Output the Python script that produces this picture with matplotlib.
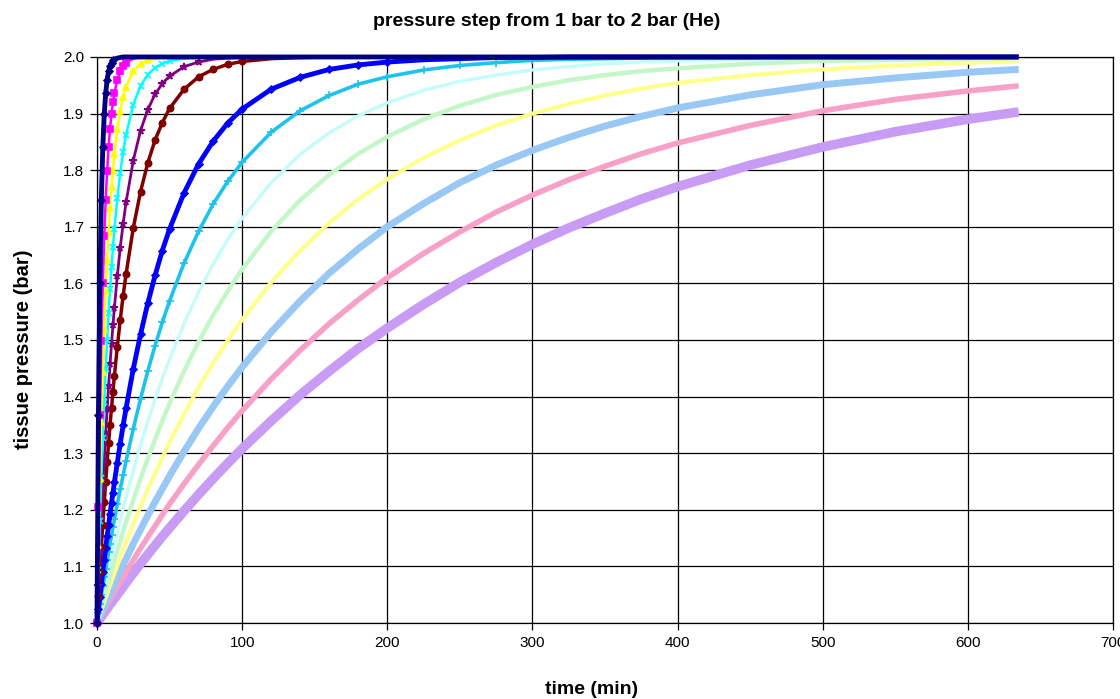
"""
Tissue pressure after a pressure step 1 bar -> 2 bar (helium compartments)
Values read off the reference chart.
"""
import matplotlib
matplotlib.use("Agg")
import matplotlib.pyplot as plt
from matplotlib.ticker import MultipleLocator

plt.rcParams['font.family'] = ['Liberation Sans', 'DejaVu Sans']

# ===== data =====
time_min = [0, 1, 2, 3, 4, 5, 6, 7, 8, 9, 10, 11, 12, 14, 16, 18, 20, 25, 30, 35,
            40, 45, 50, 60, 70, 80, 90, 100, 120, 140, 160, 180, 200, 225, 250, 275,
            300, 325, 350, 375, 400, 450, 500, 550, 600, 635]

# half-time labels of the compartments (min)
half_times = [1.51, 3.02, 4.72, 6.99, 10.21, 14.48, 29.11, 41.20,
              55.19, 70.69, 90.34, 115.29, 147.42, 188.24]

p01 = [1.0, 1.368, 1.601, 1.748, 1.841, 1.899, 1.936, 1.960, 1.975, 1.984, 1.990, 1.994,
       1.996, 1.998, 1.999] + [2.0] * 31
p02 = [1.0, 1.205, 1.368, 1.498, 1.601, 1.683, 1.748, 1.799, 1.841, 1.873, 1.899, 1.920,
       1.936, 1.960, 1.975, 1.984, 1.990, 1.997, 1.999] + [2.0] * 27
p03 = [1.0, 1.137, 1.255, 1.356, 1.444, 1.520, 1.586, 1.642, 1.691, 1.733, 1.770, 1.801,
       1.828, 1.872, 1.905, 1.929, 1.947, 1.975, 1.988, 1.994, 1.997, 1.999, 1.999] + [2.0] * 23
p04 = [1.0, 1.094, 1.180, 1.257, 1.327, 1.391, 1.448, 1.500, 1.548, 1.590, 1.629, 1.664,
       1.696, 1.750, 1.795, 1.832, 1.862, 1.916, 1.949, 1.969, 1.981, 1.988, 1.993, 1.997,
       1.999] + [2.0] * 21
p05 = [1.0, 1.066, 1.127, 1.184, 1.238, 1.288, 1.335, 1.378, 1.419, 1.457, 1.493, 1.526,
       1.557, 1.613, 1.663, 1.705, 1.743, 1.817, 1.870, 1.907, 1.934, 1.953, 1.966, 1.983,
       1.991, 1.996, 1.998, 1.999] + [2.0] * 18
p06 = [1.0, 1.047, 1.091, 1.134, 1.174, 1.213, 1.250, 1.285, 1.318, 1.350, 1.380, 1.409,
       1.437, 1.488, 1.535, 1.578, 1.616, 1.698, 1.762, 1.813, 1.853, 1.884, 1.909, 1.943,
       1.965, 1.978, 1.987, 1.992, 1.997, 1.999] + [2.0] * 16
p07 = [1.0, 1.024, 1.046, 1.069, 1.091, 1.112, 1.133, 1.154, 1.173, 1.193, 1.212, 1.230,
       1.249, 1.283, 1.317, 1.349, 1.379, 1.449, 1.510, 1.565, 1.614, 1.658, 1.696, 1.760,
       1.811, 1.851, 1.883, 1.908, 1.943, 1.964, 1.978, 1.986, 1.991, 1.995, 1.997, 1.999,
       1.999] + [2.0] * 9
p08 = [1.0, 1.017, 1.033, 1.049, 1.065, 1.081, 1.096, 1.111, 1.126, 1.140, 1.155, 1.169,
       1.183, 1.210, 1.236, 1.261, 1.286, 1.343, 1.396, 1.445, 1.490, 1.531, 1.569, 1.636,
       1.692, 1.740, 1.780, 1.814, 1.867, 1.905, 1.932, 1.952, 1.965, 1.977, 1.985, 1.990,
       1.994, 1.996, 1.997, 1.998, 1.999, 1.999, 2.0, 2.0, 2.0, 2.0]
p09 = [1.0, 1.012, 1.025, 1.037, 1.049, 1.061, 1.073, 1.084, 1.096, 1.107, 1.118, 1.129,
       1.140, 1.161, 1.182, 1.202, 1.222, 1.269, 1.314, 1.356, 1.395, 1.432, 1.466, 1.529,
       1.585, 1.634, 1.677, 1.715, 1.778, 1.828, 1.866, 1.896, 1.919, 1.941, 1.957, 1.968,
       1.977, 1.983, 1.988, 1.991, 1.993, 1.996, 1.998, 1.999, 1.999, 2.0]
p10 = [1.0, 1.010, 1.019, 1.029, 1.038, 1.048, 1.057, 1.066, 1.075, 1.084, 1.093, 1.102,
       1.111, 1.128, 1.145, 1.162, 1.178, 1.217, 1.255, 1.290, 1.324, 1.357, 1.388, 1.445,
       1.497, 1.544, 1.586, 1.625, 1.692, 1.747, 1.792, 1.829, 1.859, 1.890, 1.914, 1.933,
       1.947, 1.959, 1.968, 1.975, 1.980, 1.988, 1.993, 1.995, 1.997, 1.998]
p11 = [1.0, 1.008, 1.015, 1.023, 1.030, 1.038, 1.045, 1.052, 1.060, 1.067, 1.074, 1.081,
       1.088, 1.102, 1.116, 1.129, 1.142, 1.175, 1.206, 1.236, 1.264, 1.292, 1.319, 1.369,
       1.416, 1.459, 1.499, 1.536, 1.602, 1.658, 1.707, 1.749, 1.784, 1.822, 1.853, 1.879,
       1.900, 1.917, 1.932, 1.944, 1.954, 1.968, 1.978, 1.985, 1.990, 1.992]
p12 = [1.0, 1.006, 1.012, 1.018, 1.024, 1.030, 1.035, 1.041, 1.047, 1.053, 1.058, 1.064,
       1.070, 1.081, 1.092, 1.103, 1.113, 1.140, 1.165, 1.190, 1.214, 1.237, 1.260, 1.303,
       1.344, 1.382, 1.418, 1.452, 1.514, 1.569, 1.618, 1.661, 1.700, 1.741, 1.778, 1.809,
       1.835, 1.858, 1.878, 1.895, 1.910, 1.933, 1.951, 1.963, 1.973, 1.978]
p13 = [1.0, 1.005, 1.009, 1.014, 1.019, 1.023, 1.028, 1.032, 1.037, 1.041, 1.046, 1.050,
       1.055, 1.064, 1.072, 1.081, 1.090, 1.111, 1.132, 1.152, 1.171, 1.191, 1.210, 1.246,
       1.280, 1.313, 1.345, 1.375, 1.431, 1.482, 1.529, 1.571, 1.610, 1.653, 1.691, 1.726,
       1.756, 1.783, 1.807, 1.829, 1.848, 1.879, 1.905, 1.925, 1.940, 1.949]
p14 = [1.0, 1.004, 1.007, 1.011, 1.015, 1.018, 1.022, 1.025, 1.029, 1.033, 1.036, 1.040,
       1.043, 1.050, 1.057, 1.064, 1.071, 1.088, 1.105, 1.121, 1.137, 1.153, 1.168, 1.198,
       1.227, 1.255, 1.282, 1.308, 1.357, 1.403, 1.445, 1.485, 1.521, 1.563, 1.602, 1.637,
       1.669, 1.698, 1.724, 1.749, 1.771, 1.809, 1.841, 1.868, 1.890, 1.903]

series = [p01, p02, p03, p04, p05, p06, p07, p08, p09, p10, p11, p12, p13, p14]

# ===== styles (Excel-like palette) =====
# (color, marker, markersize, linewidth)
styles = [
    ('#000080', 'D', 3.5, 3.5),
    ('#FF00FF', 's', 4.0, 1.8),
    ('#FFFF00', '^', 4.5, 1.8),
    ('#00FFFF', 'x', 4.5, 1.8),
    ('#800080', '*', 5.5, 2.0),
    ('#800000', 'o', 4.5, 2.5),
    ('#0000FF', 'D', 3.5, 3.5),
    ('#1EC3EB', '+', 5.5, 2.6),
    ('#C4FCFC', None, 0, 2.4),
    ('#C4F7C8', None, 0, 3.2),
    ('#FFFF8C', None, 0, 3.0),
    ('#99C8F5', None, 0, 5.0),
    ('#F7A0C8', None, 0, 4.0),
    ('#C89BF5', None, 0, 6.8),
]


def main():
    fig = plt.figure(figsize=(11.2, 6.99), dpi=100)
    ax = fig.add_axes([0.0866, 0.1087, 0.9072, 0.8098])

    for i, (vals, (col, mk, ms, lw)) in enumerate(zip(series, styles)):
        if mk is not None:
            # markers only where the curve is still rising
            mev = [j for j, v in enumerate(vals) if v < 1.995]
            ax.plot(time_min, vals, color=col, lw=lw, marker=mk, ms=ms,
                    mew=1.2, markevery=mev, zorder=40 - i, clip_on=False,
                    solid_capstyle='butt', solid_joinstyle='round')
        else:
            ax.plot(time_min, vals, color=col, lw=lw, zorder=40 - i,
                    clip_on=False, solid_capstyle='butt', solid_joinstyle='round')

    ax.set_xlim(0, 700)
    ax.set_ylim(1.0, 2.0)
    ax.xaxis.set_major_locator(MultipleLocator(100))
    ax.yaxis.set_major_locator(MultipleLocator(0.1))
    ax.yaxis.set_major_formatter(plt.FuncFormatter(lambda v, p: f"{v:.1f}"))
    ax.grid(True, color='black', lw=0.9)
    ax.set_axisbelow(True)
    for s in ax.spines.values():
        s.set_color('black')
        s.set_linewidth(0.9)
    ax.tick_params(direction='out', length=5, width=0.9, labelsize=11, pad=4,
                   colors='black')

    fig.text(0.488, 0.969, 'pressure step from 1 bar to 2 bar (He)', ha='center',
             va='center', fontsize=14, fontweight='bold')
    fig.text(0.021, 0.50, 'tissue pressure (bar)', rotation=90, ha='center',
             va='center', fontsize=14.5, fontweight='bold')
    fig.text(0.528, 0.014, 'time (min)', ha='center', va='center', fontsize=14,
             fontweight='bold')

    fig.savefig('out.png', dpi=100)
    plt.close(fig)


if __name__ == "__main__":
    main()
